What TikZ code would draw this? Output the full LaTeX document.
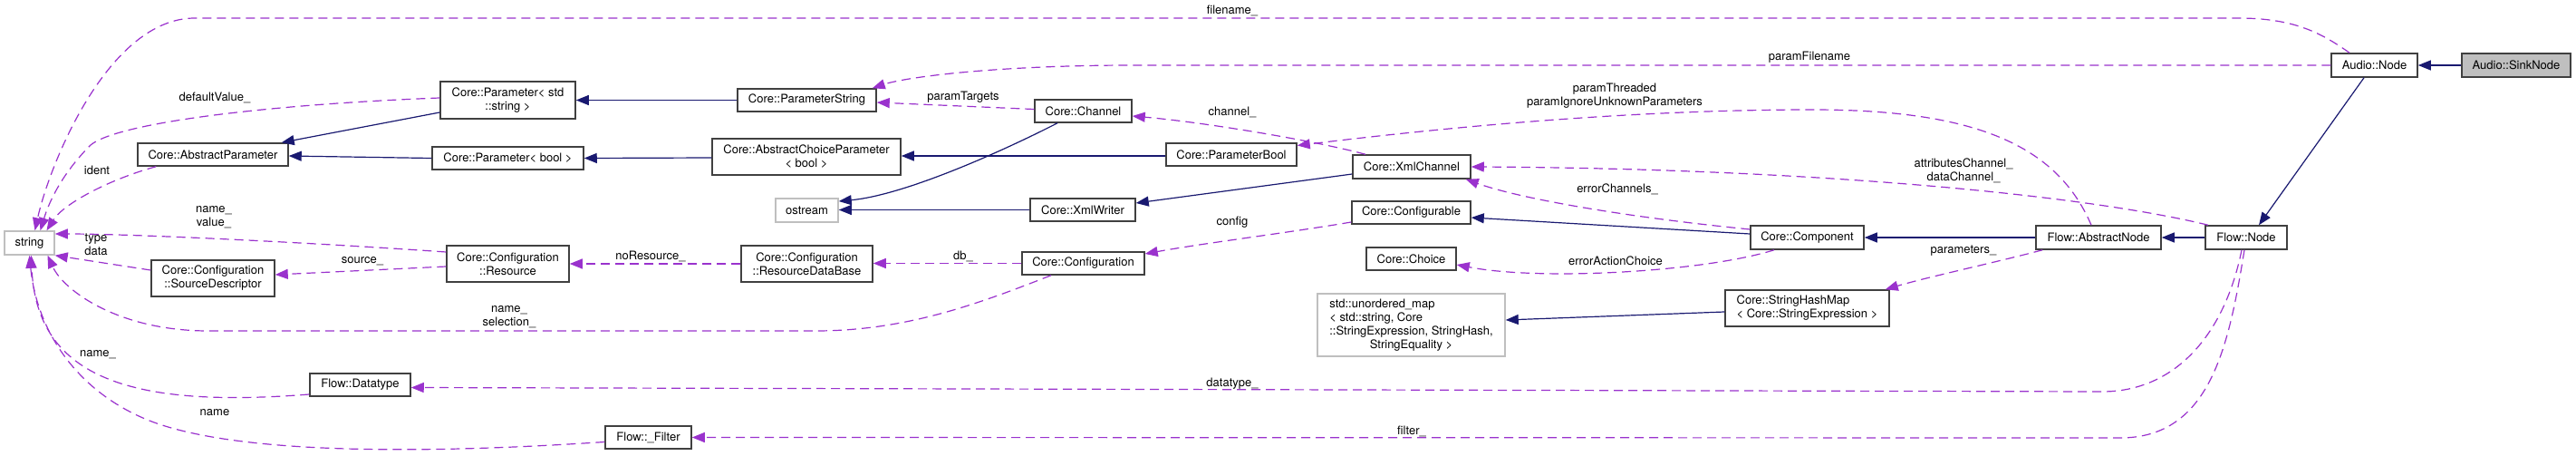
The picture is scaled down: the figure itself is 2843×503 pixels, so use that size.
\documentclass[tikz,border=0pt]{standalone}
\usepackage{fontspec}
\setmainfont{TeX Gyre Heros}
\usetikzlibrary{arrows.meta}
\definecolor{inhc}{HTML}{191970}
\definecolor{usec}{HTML}{9A32CD}
\definecolor{boxc}{HTML}{404040}
\definecolor{extc}{HTML}{BFBFBF}
\newcommand{\dxf}{\fontsize{13}{15}\selectfont}
\begin{document}
\begin{tikzpicture}[x=1pt,y=-1pt,
  cls/.style={draw=boxc, line width=1.5pt, fill=white, inner sep=0pt, font=\dxf, align=center},
  extcls/.style={cls, draw=extc},
  inh/.style={draw=inhc, line width=1.2pt, -{Triangle[length=14pt,width=11pt]}},
  use/.style={draw=usec, line width=1.2pt, dash pattern=on 10pt off 6pt, -{Triangle[length=14pt,width=11pt]}},
  lbl/.style={font=\dxf, inner sep=0pt, align=center}]
\useasboundingbox (0,0) rectangle (2843,503);

% nodes
\node[extcls, minimum width=55, minimum height=26] (str) at (32.5,268) {string};
\node[cls, minimum width=166, minimum height=25] (ap) at (235,170.5) {Core::AbstractParameter};
\node[cls, minimum width=136, minimum height=40] (sd) at (235,307) {Core::Configuration\\::SourceDescriptor};
\node[cls, minimum width=111, minimum height=25] (dt) at (397.5,424.5) {Flow::Datatype};
\node[cls, minimum width=149, minimum height=41] (pstd) at (560.5,110.5) {Core::Parameter< std\\::string >};
\node[cls, minimum width=167, minimum height=25] (pbool) at (560.5,174.5) {Core::Parameter< bool >};
\node[cls, minimum width=135, minimum height=40] (res) at (560.5,291) {Core::Configuration\\::Resource};
\node[cls, minimum width=95, minimum height=25] (filt) at (715.5,482.5) {Flow::\_Filter};
\node[cls, minimum width=153, minimum height=25] (pstr) at (890.5,110.5) {Core::ParameterString};
\node[cls, minimum width=208, minimum height=40] (acp) at (890,173) {Core::AbstractChoiceParameter\\< bool >};
\node[extcls, minimum width=69, minimum height=26] (ost) at (890.5,232) {ostream};
\node[cls, minimum width=145, minimum height=40] (rdb) at (890.5,291) {Core::Configuration\\::ResourceDataBase};
\node[cls, minimum width=107, minimum height=25] (chan) at (1195.5,122.5) {Core::Channel};
\node[cls, minimum width=144, minimum height=25] (pbl) at (1359,170.5) {Core::ParameterBool};
\node[cls, minimum width=116, minimum height=25] (xw) at (1195,231.5) {Core::XmlWriter};
\node[cls, minimum width=135, minimum height=25] (conf) at (1195.5,290.5) {Core::Configuration};
\node[cls, minimum width=130, minimum height=26] (xc) at (1558,184) {Core::XmlChannel};
\node[cls, minimum width=131, minimum height=25] (cfg) at (1557.5,234.5) {Core::Configurable};
\node[cls, minimum width=99, minimum height=25] (choice) at (1557.5,285.5) {Core::Choice};
\node[extcls, minimum width=207, minimum height=69] (umap) at (1557.5,358.5) {\begin{tabular}{@{}l@{}}std::unordered\_map\\< std::string, Core\\::StringExpression, StringHash,\\\multicolumn{1}{@{}c@{}}{StringEquality >}\end{tabular}};
\node[cls, minimum width=125, minimum height=26] (comp) at (1994.5,262) {Core::Component};
\node[cls, minimum width=181, minimum height=40, align=left] (shm) at (1994.5,340) {Core::StringHashMap\\< Core::StringExpression >};
\node[cls, minimum width=138, minimum height=26] (an) at (2316,262) {Flow::AbstractNode};
\node[cls, minimum width=90, minimum height=26] (fn) at (2479,262) {Flow::Node};
\node[cls, minimum width=95, minimum height=26] (anode) at (2620.5,72) {Audio::Node};
\node[cls, fill=extc, minimum width=120, minimum height=26] (sink) at (2777,72) {Audio::SinkNode};

% inheritance
\draw[inh] (sink.west) -- (anode.east);
\draw[inh] ([xshift=-11.5]anode.south) -- ([xshift=14]fn.north);
\draw[inh] (fn.west) -- (an.east);
\draw[inh] (an.west) -- (comp.east);
\draw[inh] ([yshift=4]comp.west) -- ([yshift=-5.5]cfg.east);
\draw[inh] ([yshift=-8]xc.west) -- ([yshift=7.5]xw.east);
\draw[inh] (xw.west) -- (xw.west -| ost.east);
\draw[inh] ([xshift=-28.5]chan.south) .. controls (1110,165) and (1000,215) .. ([yshift=10]ost.east);
\draw[inh] ([yshift=-1.5]pbl.west) -- ([yshift=1]acp.east);
\draw[inh] ([yshift=-1]acp.west) -- (pbool.east);
\draw[inh] (pbool.west) -- ([yshift=-1.5]ap.east);
\draw[inh] (pstr.west) -- (pstd.east);
\draw[inh] ([yshift=-13.5]pstd.west) -- ([xshift=-8]ap.north east);
\draw[inh] ([yshift=-4]shm.west) -- ([yshift=5.5]umap.east);

% usage
\draw[use] ([xshift=-27.5]anode.north) .. controls (2560,35) and (2530,20) .. (2470,20) -- (215,20) .. controls (120,20) and (55,180) .. ([xshift=6]str.north);
\node[lbl] (l1) at (1360,12) {filename\_};

\draw[use] (anode.west) -- (1250,72) .. controls (1100,72) and (1000,85) .. ([xshift=-5]pstr.north east);
\node[lbl] (l2) at (1997,63) {paramFilename};

\draw[use] ([yshift=2.5]pstd.west) .. controls (300,115) and (130,135) .. (100,160) .. controls (70,190) and (55,220) .. ([xshift=12]str.north);
\node[lbl] (l3) at (237,108) {defaultValue\_};

\draw[use] ([xshift=21]ap.south west) .. controls (120,198) and (70,225) .. ([xshift=19]str.north);
\node[lbl] (l4) at (107,188) {ident};

\draw[use] ([yshift=13]res.west) .. controls (350,268) and (150,258) .. ([yshift=10]str.east);
\node[lbl] (l5) at (236,239.5) {name\_\\value\_};

\draw[use] ([yshift=-3]res.west) -- ([yshift=4]sd.east);
\node[lbl] (l6) at (400,288) {source\_};

\draw[use] ([yshift=9]sd.west) -- (str.south east);
\node[lbl] (l7) at (106,270) {type\\data};

\draw[use] ([xshift=-35.5]conf.south) .. controls (1080,335) and (1000,365) .. (900,365) -- (230,365) .. controls (130,365) and (70,320) .. ([xshift=20]str.south);
\node[lbl] (l8) at (562,350) {name\_\\selection\_};

\draw[use] (rdb.west) -- (res.east);
\node[lbl] (l9) at (718,283) {noResource\_};

\draw[use] (conf.west) -- (conf.west -| rdb.east);
\node[lbl] (l10) at (1063,283) {db\_};

\draw[use] ([yshift=-10.5]cfg.west) .. controls (1420,257) and (1330,268) .. ([yshift=10.5]conf.east);
\node[lbl] (l11) at (1360,245) {config};

\draw[use] ([yshift=2]chan.west) -- ([yshift=-2.5]pstr.east);
\node[lbl] (l12) at (1063,107) {paramTargets};

\draw[use] ([xshift=-51]xc.north) .. controls (1450,155) and (1330,135) .. ([yshift=-5.5]chan.east);
\node[lbl] (l13) at (1360,124) {channel\_};

\draw[use] ([xshift=-8]an.north) .. controls (2270,160) and (2180,121) .. (2000,121) .. controls (1800,121) and (1600,140) .. ([yshift=10]pbl.east);
\node[lbl] (l14) at (1782,106) {paramThreaded\\paramIgnoreUnknownParameters};

\draw[use] ([xshift=-42]fn.north) .. controls (2300,215) and (2000,186) .. (xc.east);
\node[lbl] (l15) at (2167,188) {attributesChannel\_\\dataChannel\_};

\draw[use] ([yshift=9]comp.west) .. controls (1800,240) and (1680,220) .. ([xshift=-6]xc.south east);
\node[lbl] (l16) at (1785,209) {errorChannels\_};

\draw[use] ([xshift=-36.5]comp.south) .. controls (1880,300) and (1700,310) .. ([yshift=-6.5]choice.east);
\node[lbl] (l17) at (1783,288) {errorActionChoice};

\draw[use] ([xshift=8]an.south west) .. controls (2200,290) and (2130,305) .. ([xshift=-5]shm.north east);
\node[lbl] (l18) at (2167,277) {parameters\_};

\draw[use] ([xshift=-5]fn.south) .. controls (2455,370) and (2400,432) .. (2320,432) -- ([yshift=-3]dt.east);
\node[lbl] (l19) at (1360,423) {datatype\_};

\draw[use] ([xshift=-2]fn.south) .. controls (2460,380) and (2440,483) .. (2340,483) -- (filt.east);
\node[lbl] (l20) at (1558,476) {filter\_};

\draw[use] ([yshift=-10.5]dt.west) .. controls (150,450) and (40,420) .. ([xshift=2]str.south);
\node[lbl] (l21) at (108,391) {name\_};

\draw[use] ([yshift=-5]filt.west) .. controls (450,502) and (250,500) .. (160,462) .. controls (80,428) and (40,360) .. (str.south);
\node[lbl] (l22) at (237,455) {name};
\end{tikzpicture}
\end{document}
